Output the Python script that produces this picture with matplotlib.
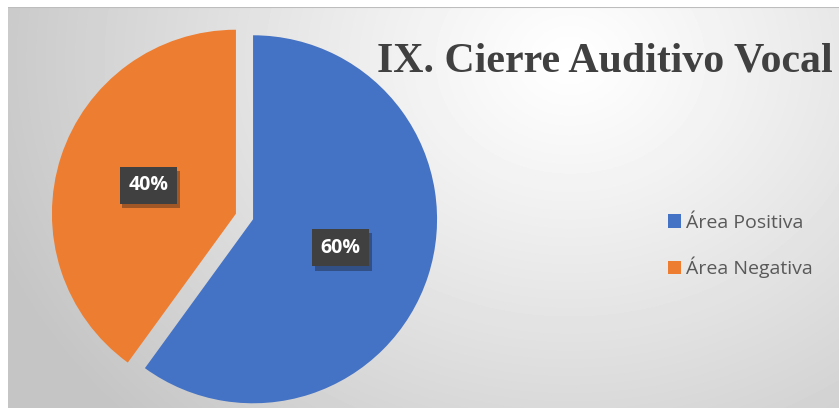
import numpy as np
import matplotlib
matplotlib.use("Agg")
import matplotlib.pyplot as plt
from matplotlib.patheffects import SimplePatchShadow, Normal

labels = ['Área Positiva', 'Área Negativa']
values = [60, 40]
colors = ['#4472C4', '#ED7D31']
title = 'IX. Cierre Auditivo Vocal'

W, H = 839, 408
fig = plt.figure(figsize=(W / 100, H / 100), dpi=100)

# ---------------- background: radial gray gradient ----------------
x0, y0 = 8, 7
bg = fig.add_axes([x0 / W, 0, 1 - x0 / W, (H - y0) / H])
yy, xx = np.mgrid[y0:H, x0:W]
d = np.hypot((xx - 570) / 620.0, (yy - 60) / 520.0)
shade = 1.0 - 0.23 * np.clip(d, 0, 1) ** 1.1
bg.imshow(shade, cmap='gray', vmin=0, vmax=1, aspect='auto', interpolation='bilinear')
bg.axhline(-0.5, color='#bdbdbd', lw=1.5)
bg.set_axis_off()

# ---------------- pie (axes in pixel units) ----------------
ax = fig.add_axes([0, 0, 1, 1])
ax.patch.set_alpha(0)

wedges, _, autotexts = ax.pie(values, colors=colors, startangle=90, counterclock=False,
                              center=(244.5, H - 216.5), radius=184, explode=[9, 9],
                              autopct='%d%%', pctdistance=0.5, frame=True,
                              wedgeprops=dict(linewidth=0),
                              textprops=dict(color='white', fontsize=14, fontweight='bold',
                                             family='Open Sans'))
ax.set_xlim(0, W)
ax.set_ylim(0, H)
ax.set_axis_off()
for t in autotexts:
    t.set_bbox(dict(boxstyle='square,pad=0.45', facecolor='#404040', edgecolor='none'))
    t.get_bbox_patch().set_path_effects([SimplePatchShadow(offset=(2, -3), alpha=0.35), Normal()])

# ---------------- title + legend ----------------
fig.text(377 / W, 1 - 61 / H, title, fontsize=30.2, fontweight='bold', family='Liberation Serif',
         color='#404040', va='center', ha='left')

leg = ax.legend(wedges, labels, loc='center left', bbox_to_anchor=(650 / W, 1 - 246 / H),
                frameon=False, handlelength=0.7, handleheight=0.7, handletextpad=0.25,
                labelspacing=1.3, prop={'family': 'Open Sans', 'size': 14})
for txt in leg.get_texts():
    txt.set_color('#595959')

fig.savefig('out.png', dpi=100)
